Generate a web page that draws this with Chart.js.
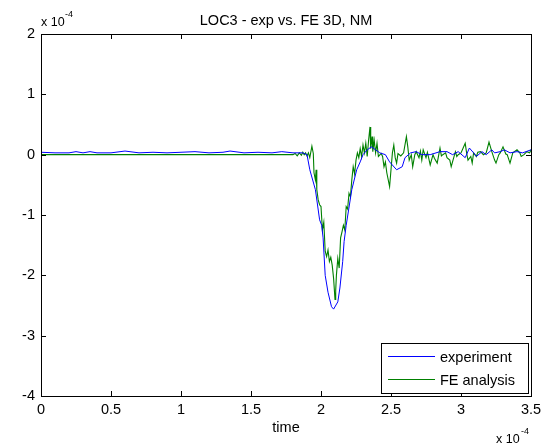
<!DOCTYPE html>
<html>
<head>
<meta charset="utf-8">
<script src="https://cdn.jsdelivr.net/npm/chart.js@4/dist/chart.umd.min.js"></script>
<style>
  html, body { margin: 0; padding: 0; background: #fff; }
  canvas { display: block; }
</style>
</head>
<body>
<canvas id="chart" width="542" height="444"></canvas>
<script>
// values in units of 1e-4 (as the axes show them)
const chartTitle = 'LOC3 - exp vs. FE 3D, NM';
const xTitle = 'time';
const seriesNames = ['experiment', 'FE analysis'];

const expTime = [0, 0.10, 0.20, 0.25, 0.30, 0.35, 0.40, 0.50, 0.60, 0.70, 0.80, 0.90, 1.00, 1.10, 1.20, 1.30, 1.35, 1.45, 1.55, 1.65, 1.72, 1.80, 1.87,
  1.90, 1.92, 1.96, 1.99, 2.005, 2.015, 2.03, 2.05, 2.075, 2.09, 2.12, 2.135, 2.155, 2.165, 2.18, 2.22, 2.255, 2.28, 2.30, 2.33, 2.36, 2.39, 2.42, 2.46,
  2.49, 2.54, 2.58, 2.60, 2.64, 2.68, 2.72, 2.78, 2.85, 2.90, 2.94, 2.98, 3.03, 3.06, 3.09, 3.11, 3.15, 3.18, 3.22, 3.24, 3.28, 3.31, 3.35, 3.40, 3.44, 3.50];
const expValue = [0.04, 0.03, 0.03, 0.05, 0.03, 0.05, 0.03, 0.03, 0.06, 0.03, 0.04, 0.03, 0.04, 0.05, 0.03, 0.04, 0.06, 0.03, 0.04, 0.03, 0.05, 0.03, 0.03,
  0.00, -0.25, -0.58, -1.08, -1.17, -1.38, -2.00, -2.28, -2.52, -2.56, -2.44, -2.21, -1.77, -1.44, -1.17, -0.58, -0.25, -0.12, 0.00, 0.08, 0.13, 0.08, 0.03, 0.00,
  -0.12, -0.25, -0.20, -0.05, 0.03, 0.05, 0.00, 0.00, 0.05, 0.05, 0.00, 0.05, -0.05, 0.11, 0.03, -0.03, 0.05, 0.00, 0.08, 0.03, 0.05, 0.08, 0.03, 0.05, 0.03, 0.08];

const feTime = [0, 1.80, 1.815, 1.83, 1.845, 1.86, 1.87, 1.88, 1.89, 1.90, 1.91, 1.92, 1.935, 1.945, 1.95, 1.96, 1.965, 1.97, 1.98, 1.99, 2.00,
  2.01, 2.02, 2.03, 2.04, 2.05, 2.06, 2.07, 2.08, 2.09, 2.10, 2.105, 2.11, 2.12, 2.13, 2.14, 2.15, 2.16, 2.17, 2.18, 2.19, 2.20, 2.21, 2.22, 2.23, 2.24,
  2.25, 2.26, 2.27, 2.28, 2.29, 2.30, 2.31, 2.32, 2.33, 2.34, 2.35, 2.355, 2.365, 2.37, 2.38, 2.39, 2.40, 2.41, 2.43, 2.44, 2.45, 2.46, 2.47, 2.49,
  2.50, 2.51, 2.52, 2.53, 2.54, 2.55, 2.57, 2.59, 2.61, 2.62, 2.63, 2.645, 2.655, 2.67, 2.68, 2.70, 2.71, 2.72, 2.73, 2.75, 2.76, 2.78, 2.80, 2.81,
  2.83, 2.85, 2.86, 2.87, 2.89, 2.90, 2.92, 2.93, 2.96, 2.97, 2.98, 3.00, 3.03, 3.04, 3.05, 3.07, 3.08, 3.09, 3.11, 3.12, 3.14, 3.16, 3.18, 3.20,
  3.22, 3.24, 3.25, 3.27, 3.28, 3.30, 3.32, 3.33, 3.35, 3.37, 3.40, 3.42, 3.43, 3.45, 3.47, 3.49, 3.50];
const feValue = [0, 0, 0.02, -0.02, 0.03, -0.01, 0.04, 0.00, 0.03, -0.02, 0.03, -0.05, 0.14, 0.02, -0.30, -0.42, -0.25, -0.58, -0.75, -0.83, -0.86,
  -1.25, -1.12, -1.60, -1.69, -1.58, -1.77, -1.70, -1.83, -2.05, -2.40, -2.25, -2.00, -1.72, -1.88, -1.38, -1.28, -1.17, -1.25, -0.86, -0.90, -0.64, -0.70, -0.42, -0.20, -0.32,
  -0.09, 0.03, -0.05, 0.10, -0.03, 0.16, 0.03, 0.19, -0.03, 0.24, 0.46, 0.10, 0.30, 0.05, 0.24, 0.03, 0.19, -0.03, 0.02, -0.03, -0.20, -0.12, -0.30, -0.53,
  -0.25, 0.03, 0.16, -0.05, -0.14, 0.02, -0.02, 0.03, 0.30, 0.13, -0.09, 0.00, -0.20, 0.00, 0.05, -0.05, 0.06, -0.09, 0.08, -0.05, 0.04, -0.17, 0.00, -0.06,
  -0.14, 0.11, -0.02, 0.00, 0.03, -0.05, -0.09, -0.20, 0.05, -0.03, 0.00, 0.03, 0.19, 0.03, -0.09, -0.03, -0.14, 0.03, -0.03, 0.04, 0.05, 0.00, 0.03, 0.21,
  0.05, -0.09, -0.14, 0.00, 0.03, 0.13, 0.01, 0.00, -0.14, 0.03, 0.08, 0.03, -0.03, 0.00, 0.05, 0.03, 0.08];

const xMin = 0, xMax = 3.5, xStep = 0.5;
const yMin = -4, yMax = 2, yStep = 1;

const FONT = '"Liberation Sans", Arial, sans-serif';

function toPoints(xs, ys) {
  return xs.map((x, i) => ({ x: x, y: ys[i] }));
}

// box, inward ticks, title, exponent labels and legend in MATLAB style
const matlabFrame = {
  id: 'matlabFrame',
  afterDatasetsDraw(chart) {
    const ctx = chart.ctx;
    const a = chart.chartArea;
    const xs = chart.scales.x;
    const ys = chart.scales.y;
    ctx.save();
    ctx.strokeStyle = '#000';
    ctx.lineWidth = 1;
    ctx.beginPath();
    xs.ticks.forEach(t => {
      const px = Math.round(xs.getPixelForValue(t.value)) + 0.5;
      ctx.moveTo(px, a.bottom); ctx.lineTo(px, a.bottom - 5);
      ctx.moveTo(px, a.top); ctx.lineTo(px, a.top + 5);
    });
    ys.ticks.forEach(t => {
      const py = Math.round(ys.getPixelForValue(t.value)) + 0.5;
      ctx.moveTo(a.left, py); ctx.lineTo(a.left + 5, py);
      ctx.moveTo(a.right, py); ctx.lineTo(a.right - 5, py);
    });
    ctx.stroke();
    ctx.strokeRect(Math.round(a.left) + 0.5, Math.round(a.top) + 0.5, Math.round(a.right - a.left), Math.round(a.bottom - a.top));

    // title
    ctx.fillStyle = '#000';
    ctx.font = '14.5px ' + FONT;
    ctx.textAlign = 'center';
    ctx.textBaseline = 'alphabetic';
    ctx.fillText(chartTitle, (a.left + a.right) / 2, 25);

    // exponent labels
    ctx.textAlign = 'left';
    ctx.font = '12.5px ' + FONT;
    ctx.fillText('x 10', a.left, 26);
    ctx.fillText('x 10', a.right - 35, 443);
    ctx.font = '9px ' + FONT;
    ctx.fillText('-4', a.left + 24, 17);
    ctx.fillText('-4', a.right - 10, 434);

    // legend
    const lx = 381, ly = 343, lw = 147, lh = 50;
    ctx.fillStyle = '#fff';
    ctx.fillRect(lx, ly, lw, lh);
    ctx.strokeStyle = '#000';
    ctx.strokeRect(lx + 0.5, ly + 0.5, lw, lh);
    ctx.font = '14.5px ' + FONT;
    ctx.textBaseline = 'middle';
    chart.data.datasets.forEach((ds, i) => {
      const y = ly + 13.5 + i * 23;
      ctx.strokeStyle = ds.borderColor;
      ctx.beginPath();
      ctx.moveTo(lx + 7, y); ctx.lineTo(lx + 54, y);
      ctx.stroke();
      ctx.fillStyle = '#000';
      ctx.fillText(ds.label, lx + 59, y + 1);
    });
    ctx.restore();
  }
};

new Chart(document.getElementById('chart'), {
  type: 'line',
  data: {
    datasets: [
      { label: seriesNames[0], data: toPoints(expTime, expValue), borderColor: '#0000ff', borderWidth: 1, pointRadius: 0, tension: 0 },
      { label: seriesNames[1], data: toPoints(feTime, feValue), borderColor: '#008000', borderWidth: 1.1, pointRadius: 0, tension: 0 }
    ]
  },
  options: {
    responsive: false,
    maintainAspectRatio: false,
    animation: false,
    devicePixelRatio: 1,
    layout: { padding: { left: 0, right: 11, top: 34, bottom: 0 } },
    plugins: { legend: { display: false }, title: { display: false }, tooltip: { enabled: false } },
    scales: {
      x: {
        type: 'linear', min: xMin, max: xMax,
        grid: { display: false, drawTicks: false },
        border: { display: false },
        ticks: { stepSize: xStep, autoSkip: false, padding: 5, color: '#000', font: { family: FONT, size: 14.5 }, maxRotation: 0,
          callback: v => String(Number(v.toFixed(2))) },
        title: { display: true, text: xTitle, color: '#000', font: { family: FONT, size: 14.5 }, padding: { top: 0, bottom: 7 } },
        afterFit(scale) { scale.height = 48; scale.paddingLeft = 0; scale.paddingRight = 0; }
      },
      y: {
        type: 'linear', min: yMin, max: yMax,
        grid: { display: false, drawTicks: false },
        border: { display: false },
        ticks: { stepSize: yStep, autoSkip: false, padding: 6, color: '#000', font: { family: FONT, size: 14.5 },
          callback: v => String(v) },
        afterFit(scale) { scale.width = 41; scale.paddingTop = 0; scale.paddingBottom = 0; }
      }
    }
  },
  plugins: [matlabFrame]
});
</script>
</body>
</html>
